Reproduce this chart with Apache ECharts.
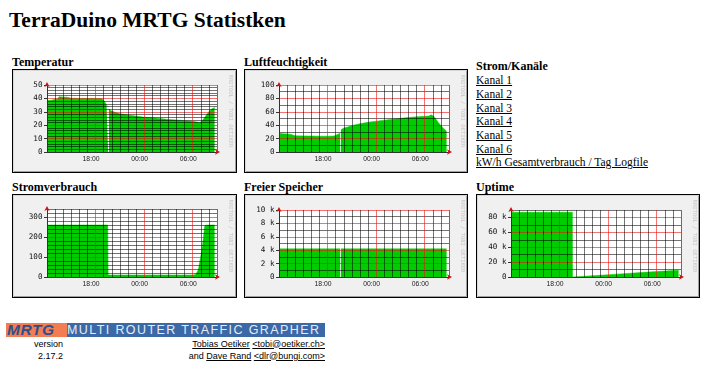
<!DOCTYPE html>
<html>
<head>
<meta charset="utf-8">
<script src="https://cdn.jsdelivr.net/npm/echarts/dist/echarts.min.js"></script>
<style>
  html, body { margin:0; padding:0; background:#fff; width:725px; height:375px; overflow:hidden; }
  .a { position:absolute; white-space:nowrap; color:#000; }
  .serif { font-family:"Liberation Serif","Times New Roman",serif; }
  .sans { font-family:"Liberation Sans",Arial,sans-serif; }
  .box { position:absolute; box-sizing:border-box; height:104px; border:1px solid #000;
         background:#f0f0f0; box-shadow: inset 1px 1px 0 #d8d8d8, inset -1px -1px 0 #a0a0a0; }
  a { color:#000; text-decoration:underline; }
</style>
</head>
<body>
<div class="a serif" style="left:9px; top:10px; font-weight:bold; font-size:21.5px; line-height:21.5px;">TerraDuino MRTG Statistken</div>

<div class="a serif" style="left:12px; top:56px; font-weight:bold; font-size:12px; line-height:12px;">Temperatur</div>
<div class="a serif" style="left:244px; top:56px; font-weight:bold; font-size:12px; line-height:12px;">Luftfeuchtigkeit</div>
<div class="a serif" style="left:476px; top:60.2px; font-weight:bold; font-size:12px; line-height:13.67px;">Strom/Kanäle</div>
<div class="a serif" style="left:476px; top:74.3px; font-size:11.5px; line-height:13.667px;">
  <a href="#">Kanal 1</a><br><a href="#">Kanal 2</a><br><a href="#">Kanal 3</a><br><a href="#">Kanal 4</a><br><a href="#">Kanal 5</a><br><a href="#">Kanal 6</a><br><a href="#">kW/h Gesamtverbrauch / Tag Logfile</a>
</div>

<div class="a serif" style="left:12px; top:180.7px; font-weight:bold; font-size:12px; line-height:12px;">Stromverbrauch</div>
<div class="a serif" style="left:244px; top:180.7px; font-weight:bold; font-size:12px; line-height:12px;">Freier Speicher</div>
<div class="a serif" style="left:476px; top:180.7px; font-weight:bold; font-size:12px; line-height:12px;">Uptime</div>

<div id="c1" class="box" style="left:12px; top:69px; width:225px;"></div>
<div id="c2" class="box" style="left:244px; top:69px; width:224px;"></div>
<div id="c3" class="box" style="left:12px; top:194px; width:225px;"></div>
<div id="c4" class="box" style="left:244px; top:194px; width:224px;"></div>
<div id="c5" class="box" style="left:476px; top:194px; width:224px;"></div>

<div class="a" style="left:6px; top:323px; width:319px; height:14px; background:#3b68a6; overflow:hidden;">
  <div class="a sans" style="left:0; top:0; width:60px; height:14px; background:#f27d52; color:#2f4f8c; font-weight:bold; font-style:italic; font-size:15.5px; line-height:14px; letter-spacing:0.6px; padding-left:1px;">MRTG</div>
  <div class="a sans" style="left:61px; top:0; height:14px; color:#e6ecf4; font-size:12.5px; line-height:14.5px; letter-spacing:1.4px;">MULTI ROUTER TRAFFIC GRAPHER</div>
</div>
<div class="a sans" style="left:20px; width:43px; top:337.6px; font-size:9px; line-height:12px; text-align:right;">version<br>2.17.2</div>
<div class="a sans" style="left:125px; width:200px; top:337.6px; font-size:9px; line-height:12px; text-align:right;">
  <a href="#">Tobias Oetiker</a> <a href="#">&lt;tobi@oetiker.ch&gt;</a><br>and <a href="#">Dave Rand</a> <a href="#">&lt;dlr@bungi.com&gt;</a>
</div>

<script>
// ---- data (hours after 12:00) ----
const xTickHours = [6, 12, 18];
const xTickLabels = ['18:00', '00:00', '06:00'];

const tempHours  = [0, 0.5, 1, 1.3, 1.5, 2, 2.5, 3, 4, 5, 6, 6.8, 7.1, 7.35, 7.55, 7.6, 7.65, 7.9, 8.5, 9, 10, 11, 12, 13, 14, 15, 16, 17, 18, 18.5, 18.9, 19.2, 19.5, 19.8, 20.1, 20.4, 20.7];
const tempValues = [38.4, 38.6, 39.4, 39.6, 41.3, 41.1, 40.8, 40.2, 40, 40, 40, 39.8, 37.8, 35, 33.6, null, 32.2, 30.7, 29.4, 28.6, 27.6, 26.8, 26, 25.6, 25, 24.3, 23.9, 23.4, 22.9, 22.4, 22.1, 23.5, 26, 28.6, 30.8, 32.3, 33.2];
const tempTicks = [0, 10, 20, 30, 40, 50];

const luftHours  = [0, 0.5, 1, 1.4, 1.6, 2, 3, 4, 5, 6, 6.8, 7.1, 7.3, 7.55, 7.6, 7.65, 7.8, 8, 8.5, 9, 10, 11, 12, 13, 14, 15, 16, 17, 18, 18.5, 18.8, 19.1, 19.4, 19.7, 20, 20.3, 20.5, 20.7];
const luftValues = [27.8, 27.3, 27, 26.5, 24.5, 24.3, 24, 23.8, 23.6, 23.6, 23.8, 25.5, 27, 28, null, 33, 35, 35.8, 37.5, 39.5, 42.2, 44.3, 46, 47.5, 49, 50.2, 51.5, 52.5, 53.2, 53.6, 55.5, 53.5, 49, 43.5, 39.5, 35.5, 33, 31];
const luftTicks = [0, 20, 40, 60, 80, 100];

const stromHours  = [0, 1, 2, 3, 4, 5, 6, 7, 7.5, 7.55, 8, 10, 12, 14, 16, 18, 18.4, 18.5, 18.7, 18.9, 19.1, 19.3, 19.5, 20, 20.7];
const stromValues = [260, 260, 260, 260, 260, 260, 260, 260, 260, 10, 10, 10, 10, 10, 10, 10, 12, 20, 38, 82, 128, 189, 258, 260, 260];
const stromTicks = [0, 100, 200, 300];

const freeHours  = [0, 2, 4, 6, 7.55, 7.6, 7.65, 10, 12, 14, 16, 18, 20, 20.7];
const freeValues = [4200, 4200, 4200, 4200, 4200, null, 4200, 4200, 4200, 4200, 4200, 4200, 4200, 4200];
const freeTicks = [0, 2000, 4000, 6000, 8000, 10000];

const upHours  = [0, 2, 4, 6, 7.58, 7.6, 10, 12, 14, 16, 18, 20, 20.7];
const upValues = [87000, 87000, 87000, 87000, 87000, 0, 1600, 3000, 4500, 5900, 7300, 8600, 9000];
const upTicks = [0, 20000, 40000, 60000, 80000];

// ---- style ----
const X_MAX = 21;
const GREEN = '#00cc00';
const GRID = 'rgba(0,0,0,0.55)';
const RED = 'rgba(235,20,20,0.6)';
const AXIS = '#333333';
const ARROW = '#cc1010';
const xSplitColors = [RED, GRID, GRID, GRID, GRID, GRID];
const kFmt = v => v === 0 ? '0' : (v / 1000) + ' k';

function buildOption(c) {
  const data = c.hours.map((h, i) => [h, c.values[i]]);
  const hidden = { axisTick: { show: false }, axisLabel: { show: false }, splitLine: { show: false } };
  return {
    animation: false,
    backgroundColor: 'transparent',
    grid: { left: 34, top: c.top, width: 170, bottom: 20, show: true, backgroundColor: '#ffffff',
            borderWidth: 0, containLabel: false, outerBoundsMode: 'none' },
    xAxis: [
      { type: 'value', min: 0, max: X_MAX, interval: 1, position: 'bottom', z: 5,
        axisLine: { show: false }, axisTick: { show: false }, axisLabel: { show: false },
        splitLine: { show: true, lineStyle: { width: 1, color: xSplitColors } } },
      Object.assign({ type: 'value', min: 0, max: X_MAX, position: 'bottom', z: 10,
        axisLine: { show: true, onZero: false, lineStyle: { color: AXIS, width: 1 } } }, hidden, {
        axisLabel: { show: true, customValues: xTickHours,
          formatter: v => xTickLabels[xTickHours.indexOf(v)] || '',
          fontFamily: '"Liberation Sans Narrow","Liberation Sans",sans-serif', fontSize: 6.8,
          color: '#222', margin: 3.5, padding: [0, 9, 0, 0] } }),
      Object.assign({ type: 'value', min: 0, max: X_MAX, position: 'bottom', z: 11,
        axisLine: { show: true, onZero: false, lineStyle: { color: ARROW, width: 0 },
          symbol: ['none', 'arrow'], symbolSize: [4, 5], symbolOffset: [0, 3] } }, hidden)
    ],
    yAxis: [
      { type: 'value', min: 0, max: c.yMax, interval: c.yMinor, position: 'left', z: 5,
        axisLine: { show: false }, axisTick: { show: false }, axisLabel: { show: false },
        splitLine: { show: true, lineStyle: { width: 1, color: c.ySplitColors } } },
      { type: 'value', min: 0, max: c.yMax, position: 'left', z: 10,
        axisLine: { show: true, onZero: false, lineStyle: { color: AXIS, width: 1 } },
        axisTick: { show: true, customValues: c.yTicks, length: 3, lineStyle: { color: AXIS } },
        axisLabel: { show: true, customValues: c.yTicks, formatter: c.yFmt,
          fontFamily: '"DejaVu Sans Mono",monospace', fontSize: 7.6, color: '#111', margin: 4.5 },
        splitLine: { show: false } },
      Object.assign({ type: 'value', min: 0, max: c.yMax, position: 'left', z: 11,
        axisLine: { show: true, onZero: false, lineStyle: { color: ARROW, width: 0 },
          symbol: ['none', 'arrow'], symbolSize: [4, 5], symbolOffset: [0, 3] } }, hidden)
    ],
    graphic: [{
      type: 'text', x: 217, y: 41, rotation: -Math.PI / 2, silent: true,
      style: { text: 'RRDTOOL / TOBI OETIKER', fill: '#c6c6c6', fontSize: 5.5,
               fontFamily: '"DejaVu Sans Mono",monospace', align: 'center', verticalAlign: 'middle' }
    }],
    series: [{
      type: 'line', xAxisIndex: 0, yAxisIndex: 0, data: data, z: 2,
      showSymbol: false, symbol: 'none', connectNulls: false,
      lineStyle: { width: 0.5, color: GREEN },
      areaStyle: { color: GREEN, opacity: 1 }
    }]
  };
}

const charts = [
  { el: 'c1', hours: tempHours, values: tempValues, yMax: 50, yMinor: 2,
    ySplitColors: [RED, GRID, GRID, GRID, GRID], yTicks: tempTicks, yFmt: v => String(v), top: 15 },
  { el: 'c2', hours: luftHours, values: luftValues, yMax: 100, yMinor: 10,
    ySplitColors: [RED, GRID], yTicks: luftTicks, yFmt: v => String(v), top: 15 },
  { el: 'c3', hours: stromHours, values: stromValues, yMax: 340, yMinor: 20,
    ySplitColors: [RED, GRID, GRID, GRID, GRID], yTicks: stromTicks, yFmt: v => String(v), top: 14 },
  { el: 'c4', hours: freeHours, values: freeValues, yMax: 10000, yMinor: 1000,
    ySplitColors: [RED, GRID], yTicks: freeTicks, yFmt: kFmt, top: 15 },
  { el: 'c5', hours: upHours, values: upValues, yMax: 90000, yMinor: 10000,
    ySplitColors: [RED, GRID], yTicks: upTicks, yFmt: kFmt, top: 15 }
];

charts.forEach(c => {
  const chart = echarts.init(document.getElementById(c.el), null, { renderer: 'canvas' });
  chart.setOption(buildOption(c));
});
</script>
</body>
</html>
